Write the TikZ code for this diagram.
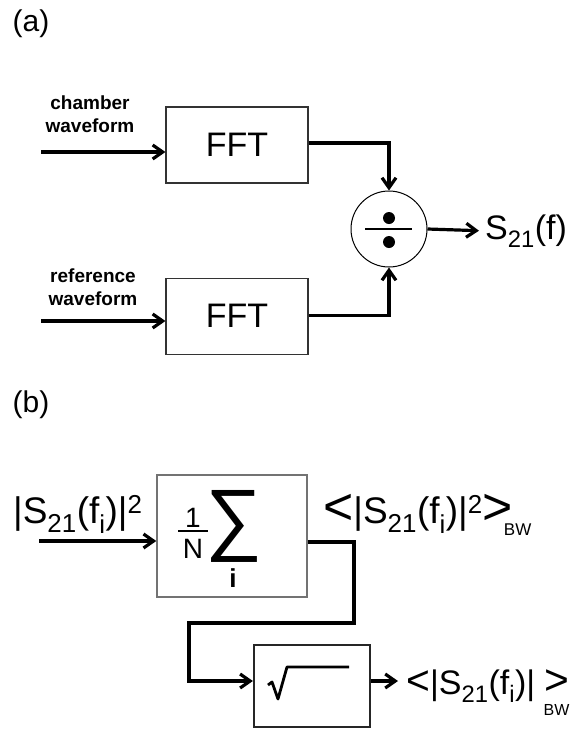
\documentclass[tikz,border=0pt]{standalone}
\usepackage{fontspec}
\setmainfont{Liberation Sans}
\usetikzlibrary{arrows.meta,positioning}

\begin{document}
\begin{tikzpicture}[x=1pt, y=-1pt, >={Straight Barb[length=10pt,width=14pt]}, node distance=94pt,
    block/.style={rectangle, draw=black!80, line width=1.1pt, inner sep=0pt},
    flow/.style={->, line width=3.2pt},
    inlabel/.style={align=center, font=\bfseries\fontsize{19}{23}\selectfont},
    big/.style={font=\fontsize{34}{40}\selectfont, inner sep=0pt},
    bigger/.style={font=\fontsize{37}{42}\selectfont, inner sep=0pt}]
    \useasboundingbox (0,0) rectangle (571,729);

    % (a) ratio of the two spectra
    \node[font=\fontsize{30}{34}\selectfont] (taga) at (31,24) {(a)};
    \node[block, big, minimum width=142pt, minimum height=76pt] (fft1) at (237,145) {FFT};
    \node[block, big, minimum width=142pt, minimum height=76pt] (fft2) [below=of fft1] {FFT};
    \node[circle, draw, line width=1pt, minimum size=76pt, inner sep=0pt] (div) at (389,229) {};
    \node[big, anchor=base west] (s21) at (485,239) {S\textsubscript{21}(f)};
    \node[inlabel] (chamber) at (90,114) {chamber\\waveform};
    \node[inlabel] (refwave) at (93,287) {reference\\waveform};
    \coordinate (in1) at (41,152);
    \coordinate (in2) at (41,321);

    \draw[line width=1.2pt] ([xshift=-24pt]div.center) -- ([xshift=23pt]div.center);
    \fill ([yshift=11pt]div.center) circle (6pt);
    \fill ([yshift=-13pt]div.center) circle (6pt);

    \draw[flow] (in1) -- (in1 -| fft1.west);
    \draw[flow] (in2) -- (in2 -| fft2.west);
    \draw[flow] ([yshift=2pt]fft1.east) -| (div.north);
    \draw[flow] ([yshift=1pt]fft2.east) -| (div.south);
    \draw[flow] (div.east) -- ([xshift=-6pt]s21.west);

    % (b) band average and root
    \node[font=\fontsize{30}{34}\selectfont] (tagb) at (31,405) {(b)};
    \node[bigger, anchor=base west] (power) at (13,523) {|S\textsubscript{21}(f\textsubscript{i})|\textsuperscript{2}};
    \node[rectangle, draw=black!55, line width=1.4pt, minimum width=150pt, minimum height=122pt] (avg) at (232,536) {};
    \node[font=\fontsize{28}{28}\selectfont, inner sep=0pt] (one) at (193,518) {1};
    \node[font=\fontsize{28}{28}\selectfont, inner sep=0pt] (num) at (193,549) {N};
    \draw[line width=2.2pt] (178,531) -- (208,531);
    \node[font=\fontsize{80}{80}\selectfont, inner sep=0pt] (sum) at (234,526) {∑};
    \node[font=\bfseries\fontsize{26}{26}\selectfont, inner sep=0pt] (idx) at (233,578) {i};
    \node[bigger, anchor=base west] (mean) at (323,523) {\raisebox{-1pt}{\scalebox{1.4}{<}}|S\textsubscript{21}(f\textsubscript{i})|\textsuperscript{2}\raisebox{-1pt}{\scalebox{1.4}{>}}\kern-9pt\raisebox{-12pt}{\fontsize{17}{17}\selectfont BW}};

    \node[rectangle, draw=black!85, line width=2.2pt, minimum width=116pt, minimum height=82pt] (root) at (312,686) {};
    \draw[line width=2.8pt, line join=round] (268,685) -- (272,682) -- (278,699) -- (287,667) -- (349,667);
    \node[big, anchor=base west] (rms) at (406,694) {\scalebox{1.2}{<}|S\textsubscript{21}(f\textsubscript{i})| \scalebox{1.25}{>}\llap{\raisebox{-21pt}{\fontsize{16}{16}\selectfont BW}}};

    \coordinate (pin) at (39,541);
    \coordinate (turn1) at (354,623);
    \coordinate (turn2) at (189,623);

    \draw[flow] (pin) -- (pin -| avg.west);
    \draw[flow] ([yshift=-6pt]avg.east) -| (turn1) -- (turn2) |- ([yshift=5pt]root.west);
    \draw[flow] ([yshift=5pt]root.east) -- ([xshift=-8pt]rms.west |- 0,681);
\end{tikzpicture}
\end{document}
